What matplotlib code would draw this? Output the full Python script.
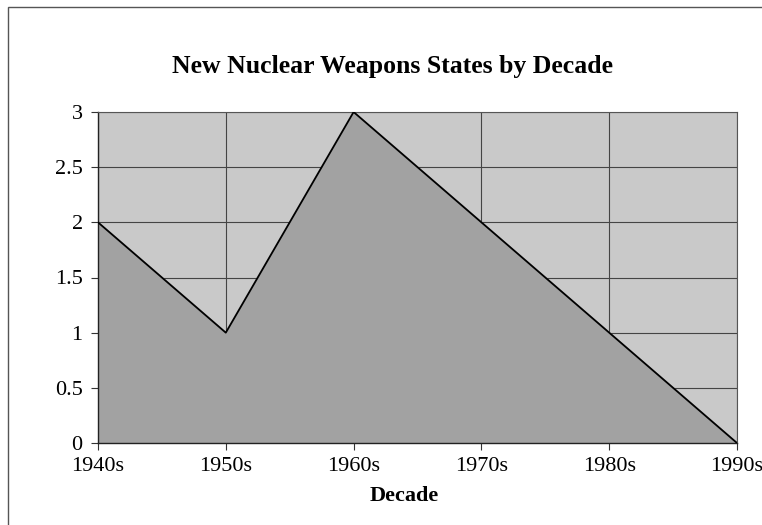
import matplotlib.pyplot as plt
from matplotlib.patches import Rectangle

# data
decades = ["1940s", "1950s", "1960s", "1970s", "1980s", "1990s"]
new_states = [2, 1, 3, 2, 1, 0]
y_ticks = [0, 0.5, 1, 1.5, 2, 2.5, 3]
y_tick_labels = ["0", "0.5", "1", "1.5", "2", "2.5", "3"]

plt.rcParams['font.family'] = ['Liberation Serif', 'DejaVu Serif']

fig = plt.figure(figsize=(7.62, 5.25), dpi=100)
fig.patch.set_facecolor('white')

# outer frame (only left and top edges visible in the picture)
fig.patches.append(Rectangle((8 / 762, -0.1), 1.2, 1.1 - 7 / 525,
                             transform=fig.transFigure, fill=False,
                             edgecolor='#555555', linewidth=1.0))

ax = fig.add_axes([98 / 762, 82 / 525, 639 / 762, 331 / 525])
ax.set_facecolor('#c9c9c9')

x = list(range(len(decades)))
ax.fill_between(x, new_states, 0, color='#a2a2a2', zorder=2)
ax.plot(x, new_states, color='black', linewidth=1.3, zorder=3)

ax.set_xlim(0, len(decades) - 1)
ax.set_ylim(0, 3)
ax.set_xticks(x)
ax.set_xticklabels(decades)
ax.set_yticks(y_ticks)
ax.set_yticklabels(y_tick_labels)

ax.grid(True, color='#444444', linewidth=0.8, zorder=1)
ax.set_axisbelow(True)
ax.tick_params(axis='both', labelsize=16, length=5, width=0.8, color='#333333')
ax.tick_params(axis='x', pad=5)
ax.tick_params(axis='y', pad=6)

for side in ['left', 'bottom']:
    ax.spines[side].set_color('#222222')
    ax.spines[side].set_linewidth(1.0)
for side in ['top', 'right']:
    ax.spines[side].set_color('#555555')
    ax.spines[side].set_linewidth(0.8)

fig.text(404 / 762, 1 - 496 / 525, "Decade", fontsize=16, fontweight='bold',
         ha='center', va='center')
fig.text(392 / 762, 1 - 73 / 525, "New Nuclear Weapons States by Decade",
         fontsize=18.5, fontweight='bold', ha='center', va='baseline')

fig.savefig("out.png", dpi=100)
